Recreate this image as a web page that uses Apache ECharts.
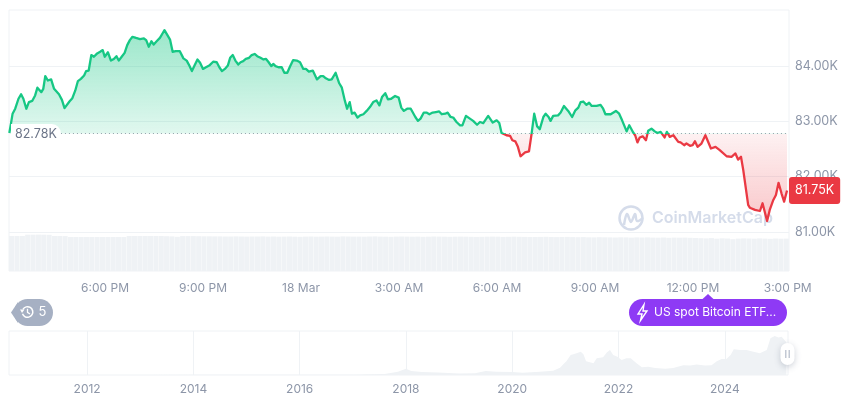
<!DOCTYPE html>
<html>
<head>
<meta charset="utf-8">
<style>html,body{margin:0;padding:0;background:#fff}#c{width:860px;height:401px}</style>
<script src="https://cdn.jsdelivr.net/npm/echarts@6/dist/echarts.min.js"></script>
</head>
<body>
<div id="c"></div>
<script>
// Hours since midnight of 17 Mar
const hours = [15.07,15.12,15.17,15.25,15.35,15.43,15.50,15.59,15.67,15.77,15.86,15.93,15.99,16.05,16.11,16.17,16.25,16.35,16.44,16.50,16.59,16.68,16.76,16.81,16.91,17.00,17.09,17.17,17.26,17.36,17.42,17.50,17.58,17.66,17.76,17.85,17.93,17.99,18.09,18.18,18.27,18.35,18.42,18.51,18.60,18.68,18.76,18.84,18.95,19.07,19.19,19.26,19.34,19.42,19.49,19.58,19.68,19.76,19.82,19.91,19.99,20.07,20.17,20.29,20.40,20.50,20.58,20.66,20.74,20.83,20.91,21.00,21.09,21.19,21.31,21.42,21.50,21.58,21.67,21.76,21.83,21.91,21.99,22.08,22.15,22.23,22.31,22.41,22.49,22.58,22.66,22.76,22.85,22.93,23.01,23.09,23.15,23.22,23.31,23.41,23.49,23.58,
23.66,23.76,23.87,23.97,24.07,24.15,24.24,24.36,24.42,24.49,24.60,24.68,24.76,24.86,24.94,25.06,25.17,25.25,25.34,25.41,25.49,25.56,25.64,25.73,25.81,25.91,26.01,26.11,26.21,26.31,26.40,26.48,26.58,26.66,26.76,26.88,26.99,27.07,27.15,27.25,27.36,27.42,27.50,27.58,27.66,27.76,27.84,27.93,28.03,28.13,28.23,28.31,28.42,28.49,28.58,28.66,28.76,28.87,28.94,29.05,29.17,29.27,29.39,29.48,29.58,29.73,29.87,29.99,30.07,30.14,30.29,30.40,30.47,30.56,30.64,30.72,30.86,30.98,31.06,31.14,31.23,31.31,31.42,31.49,31.58,
31.64,31.72,31.87,31.95,32.05,32.18,32.30,32.40,32.49,32.56,32.64,32.74,32.82,32.90,33.05,33.17,33.25,33.32,33.48,33.64,33.74,33.83,33.97,34.05,34.17,34.23,34.30,34.37,34.46,34.56,34.63,34.73,34.83,34.91,35.01,35.13,35.20,35.29,35.40,35.55,35.62,35.73,35.80,35.91,35.99,36.06,36.14,36.26,36.38,36.55,36.69,36.82,37.03,37.18,37.23,37.30,37.38,37.47,37.54,37.69,37.74,37.90,38.05,38.13,38.27,38.35,38.46,38.54,38.62,38.71,38.79,38.88];
// Price in thousands of USD
const prices = [82.79,82.96,83.14,83.23,83.41,83.49,83.41,83.23,83.35,83.37,83.47,83.61,83.57,83.53,83.59,83.82,83.74,83.76,83.59,83.59,83.49,83.39,83.24,83.25,83.36,83.42,83.56,83.73,83.77,83.83,83.91,83.92,84.20,84.17,84.23,84.26,84.29,84.17,84.25,84.10,84.13,84.18,84.10,84.17,84.24,84.38,84.47,84.53,84.51,84.49,84.50,84.47,84.35,84.45,84.39,84.45,84.51,84.59,84.65,84.56,84.48,84.26,84.27,84.27,84.14,84.10,84.01,83.91,84.01,84.12,84.06,83.95,83.98,84.01,84.08,84.07,83.98,83.91,83.95,84.01,84.15,84.20,84.10,84.03,84.07,84.09,84.13,84.15,84.20,84.22,84.18,84.15,84.12,84.13,84.07,84.00,84.04,84.00,83.98,83.98,83.88,83.88,
83.99,84.11,84.10,84.07,83.95,83.95,83.90,83.92,83.90,83.76,83.82,83.82,83.78,83.75,83.76,83.88,83.69,83.61,83.38,83.23,83.35,83.14,83.16,83.07,83.11,83.13,83.19,83.26,83.35,83.38,83.29,83.44,83.51,83.40,83.41,83.46,83.43,83.25,83.19,83.23,83.23,83.26,83.08,83.01,83.05,83.16,83.16,83.13,83.16,83.17,83.18,83.13,83.14,83.16,83.08,83.07,82.99,82.93,82.93,83.10,83.05,83.01,82.94,82.99,82.97,83.10,82.98,83.02,82.97,82.79,82.75,82.74,82.66,82.64,82.54,82.37,82.44,82.46,82.78,83.14,82.91,82.86,83.08,83.14,83.08,
83.01,83.10,83.11,83.16,83.28,83.19,83.08,83.20,83.25,83.35,83.36,83.30,83.34,83.28,83.28,83.30,83.23,83.13,83.13,83.19,83.14,83.02,82.82,82.93,82.80,82.75,82.62,82.71,82.73,82.66,82.83,82.87,82.82,82.79,82.81,82.71,82.81,82.72,82.75,82.63,82.62,82.57,82.60,82.56,82.57,82.64,82.54,82.60,82.75,82.51,82.54,82.48,82.37,82.36,82.34,82.42,82.31,82.36,82.12,81.49,81.44,81.40,81.38,81.52,81.20,81.40,81.58,81.67,81.89,81.70,81.55,81.75];
const volumes = [35,35,35,36.3,36.3,36.4,36.3,36.2,35,35,34.9,34,34,34,34,34,34,34,34,34,34,34,35,35,35,35,35,35,35,34.8,34.6,34.2,34.9,34.9,34.9,34.8,34.7,34.7,34.6,34.6,34.5,34.5,34.6,34.5,34.4,34.5,34.5,34.6,34.4,34.5,34.3,34.4,34.5,34.3,34.2,34.4,34.5,34.3,34.4,34.5,34.4,34.3,34.6,34.5,34.4,34.4,34.3,34.5,34.6,34.4,34.3,34.2,34.4,34.5,34.4,34.3,34.4,34.2,34.3,34.5,34.4,34.3,34.2,34.3,34.4,34.3,34.2,34.1,34.2,34.3,34.4,34.3,34.1,34.2,34.3,34.2,34.1,34.0,34.0,34.1,34.2,34.0,33.9,34.0,34.1,33.9,33.8,33.9,33.7,33.6,33.8,33.7,33.6,33.5,33.7,33.6,33.4,33.6,33.5,33.6,33.4,33.3,33.5,33.2,33.4,33.3,33.4,33.2,33.0,32.8,32.6,32.9,32.3,32.7,32.5,31.8,32.4,32.6,32.5,32.3,32.6,32.4,32.2,32.5,32.3,32.4];
const yearPoints = [2010.53,2013,2014,2016,2017,2017.6,2017.85,2018.0,2018.1,2018.3,2018.6,2018.9,2019.0,2019.3,2019.5,2019.7,2020,2020.2,2020.52,2020.77,2020.9,2020.98,2021.02,2021.1,2021.15,2021.21,2021.29,2021.34,2021.39,2021.46,2021.53,2021.59,2021.71,2021.78,2021.84,2021.9,2021.98,2022.06,2022.15,2022.23,2022.34,2022.44,2022.56,2022.69,2022.88,2023.03,2023.22,2023.35,2023.47,2023.63,2023.75,2023.85,2023.94,2024.03,2024.11,2024.17,2024.29,2024.41,2024.54,2024.66,2024.79,2024.86,2024.94,2025.01,2025.07,2025.16];
const yearPrices = [0,0.3,0.6,0.5,1,3,9,17,11,8,7,5,4,5,11,9,8,6,9,12,20,32,38,55,57,60,64,57,38,35,32,46,49,62,69,55,50,41,46,46,32,21,23,19,17,19,27,26,29,26,27,38,44,44,55,71,69,69,64,60,69,101,107,103,105,90];
const hourTicks = [18,21,24,27,30,33,36,38.9];
const hourLabels = ['6:00 PM','9:00 PM','18 Mar','3:00 AM','6:00 AM','9:00 AM','12:00 PM','3:00 PM'];
const priceTicks = [81,82,83,84];
const yearTicks = [2012,2014,2016,2018,2020,2022,2024];
const baseline = 82.78;
const lastPrice = 81.75;

const GREEN='#16c784', RED='#ea3943', LINE='#eff2f5', TXT='#8d96a8', FONT='Inter, sans-serif';
const yMin=80.295, yMax=85.015;
const frac=(yMax-baseline)/(yMax-yMin);
const labelMap = new Map(hourTicks.map((t,i)=>[t,hourLabels[i]]));
const chart = echarts.init(document.getElementById('c'), null, {renderer:'canvas'});
chart.setOption({
  animation:false,
  textStyle:{fontFamily:FONT},
  grid:[
    {left:9,top:10,width:780,height:261,show:true,borderColor:LINE,borderWidth:1,backgroundColor:'transparent'},
    {left:9,top:231,width:780,height:40},
    {left:9,top:331,width:779,height:44,show:true,borderColor:LINE,borderWidth:1,backgroundColor:'transparent'}
  ],
  xAxis:[
    {type:'value',gridIndex:0,min:15.06,max:38.94,
     axisLine:{show:false},splitLine:{show:false},
     axisTick:{show:false,customValues:hourTicks},
     axisLabel:{customValues:hourTicks,formatter:v=>labelMap.get(v)||'',color:TXT,fontSize:12,fontFamily:FONT,margin:11,hideOverlap:false}},
    {type:'category',gridIndex:1,show:false,data:volumes.map((_,i)=>i)},
    {type:'value',gridIndex:2,min:2010.53,max:2025.19,
     axisLine:{show:false},
     axisTick:{show:false,customValues:yearTicks},
     splitLine:{show:true,lineStyle:{color:LINE,width:1}},
     axisLabel:{customValues:yearTicks,formatter:v=>String(v),color:TXT,fontSize:12,fontFamily:FONT,margin:8,hideOverlap:false}}
  ],
  yAxis:[
    {type:'value',gridIndex:0,position:'right',min:yMin,max:yMax,
     axisLine:{show:false},
     axisTick:{show:false,customValues:priceTicks},
     splitLine:{show:true,lineStyle:{color:LINE,width:1}},
     axisLabel:{customValues:priceTicks,formatter:v=>v.toFixed(2)+'K',color:TXT,fontSize:12.5,fontFamily:FONT,margin:6,hideOverlap:false}},
    {type:'value',gridIndex:1,min:0,max:40,show:false},
    {type:'value',gridIndex:2,min:0,max:121,show:false}
  ],
  series:[
    {type:'line',xAxisIndex:0,yAxisIndex:0,z:5,symbol:'none',showSymbol:false,clip:false,
     data:hours.map((h,i)=>[h,prices[i]]),
     lineStyle:{width:2.3,join:'round',color:{type:'linear',global:true,x:0,y:10,x2:0,y2:271,colorStops:[
       {offset:0,color:GREEN},{offset:frac,color:GREEN},{offset:frac,color:RED},{offset:1,color:RED}]}},
     areaStyle:{origin:baseline,opacity:1,color:{type:'linear',global:true,x:0,y:10,x2:0,y2:271,colorStops:[
       {offset:0,color:'rgba(22,199,132,0.48)'},
       {offset:0.09,color:'rgba(22,199,132,0.42)'},
       {offset:frac,color:'rgba(22,199,132,0.13)'},
       {offset:frac,color:'rgba(234,57,67,0.07)'},
       {offset:0.84,color:'rgba(234,57,67,0.30)'},
       {offset:1,color:'rgba(234,57,67,0.35)'}]}},
     markLine:{silent:true,symbol:'none',animation:false,
       lineStyle:{color:'#9aa0ad',type:[1,3],width:1},label:{show:false},
       data:[[{coord:[16.65,baseline]},{coord:[38.9,baseline]}]]},
     markPoint:{silent:true,symbol:'circle',symbolSize:0,animation:false,z:10,
       data:[
        {coord:[15.06,baseline],label:{show:true,position:'right',offset:[-3,1],formatter:baseline.toFixed(2)+'K',
          color:'#6b7487',fontSize:12.5,fontFamily:FONT,backgroundColor:'#fff',
          padding:[5,4,3,4],borderRadius:[0,9,0,0]}},
        {coord:[38.94,lastPrice],label:{show:true,position:'right',offset:[-5,0],formatter:lastPrice.toFixed(2)+'K',
          color:'#fff',fontSize:12.5,fontFamily:FONT,backgroundColor:RED,
          padding:[7,6,7,6],borderRadius:3}}
       ]}
    },
    {type:'bar',xAxisIndex:1,yAxisIndex:1,z:1,data:volumes,barCategoryGap:'5%',itemStyle:{color:'#eff2f5'},silent:true},
    {type:'line',xAxisIndex:2,yAxisIndex:2,z:3,symbol:'none',data:yearPoints.map((y,i)=>[y,yearPrices[i]]),
     lineStyle:{width:0},areaStyle:{color:'#eff2f5',opacity:1},silent:true}
  ],
  graphic:[
    // watermark
    {type:'group',z:1,silent:true,children:[
      {type:'circle',shape:{cx:631,cy:218,r:11.5},style:{fill:'none',stroke:'#d5dcea',lineWidth:2.5}},
      {type:'polyline',shape:{smooth:0.35,points:[[624,225],[627,214],[631,222],[635,214],[637,221],[643,218]]},style:{fill:'none',stroke:'#d5dcea',lineWidth:2.5}},
      {type:'text',x:652,y:218,style:{text:'CoinMarketCap',fill:'#d5dcea',font:'600 16px Inter, sans-serif',textVerticalAlign:'middle'}}
    ]},
    // history pill
    {type:'group',z:20,silent:true,children:[
      {type:'polygon',shape:{points:[[11,312.5],[18,302],[18,323]]},style:{fill:'#a6b0c3'}},
      {type:'rect',shape:{x:14,y:299,width:39,height:27,r:13.5},style:{fill:'#a6b0c3'}},
      {type:'arc',shape:{cx:27.5,cy:312,r:5.3,startAngle:-2.6,endAngle:2.8},style:{fill:'none',stroke:'#fff',lineWidth:1.5}},
      {type:'polyline',shape:{points:[[27.5,308.8],[27.5,312.4],[30,314]]},style:{fill:'none',stroke:'#fff',lineWidth:1.3}},
      {type:'polygon',shape:{points:[[20,309.5],[24.5,309.5],[22,313]]},style:{fill:'#fff'}},
      {type:'text',x:38.5,y:312.5,style:{text:'5',fill:'#fff',font:'13px Inter, sans-serif',textVerticalAlign:'middle'}}
    ]},
    // event pill
    {type:'group',z:20,silent:true,children:[
      {type:'polygon',shape:{points:[[702,299.5],[708,294],[714,299.5]]},style:{fill:'#8e3af5'}},
      {type:'rect',shape:{x:629,y:299,width:158,height:27,r:13.5},style:{fill:'#8e3af5'}},
      {type:'polygon',shape:{points:[[644,304.5],[638,314],[642,314],[640.5,320.5],[647,311],[643,311]]},style:{fill:'none',stroke:'#fff',lineWidth:1.4}},
      {type:'text',x:654,y:312.5,style:{text:'US spot Bitcoin ETF...',fill:'#fff',font:'12px Inter, sans-serif',textVerticalAlign:'middle'}}
    ]},
    // mini-chart handle
    {type:'rect',z:30,silent:true,shape:{x:780.5,y:343,width:14,height:22,r:7},style:{fill:'#fff',shadowBlur:6,shadowColor:'rgba(88,102,126,0.3)',shadowOffsetY:2}},
    {type:'rect',z:31,silent:true,shape:{x:785,y:350,width:1.5,height:8},style:{fill:'#c3c9d4'}},
    {type:'rect',z:31,silent:true,shape:{x:788.5,y:350,width:1.5,height:8},style:{fill:'#c3c9d4'}}
  ]
});
</script>
</body>
</html>
